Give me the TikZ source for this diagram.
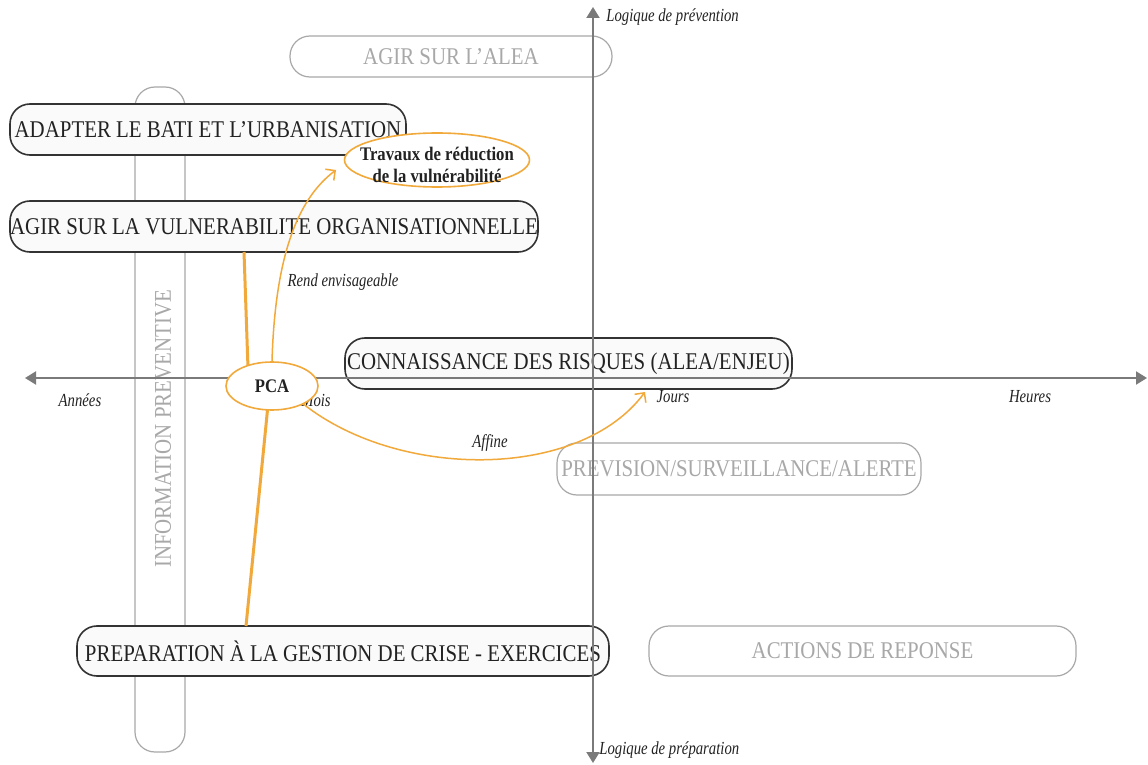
\documentclass[tikz,border=0pt]{standalone}
\usepackage{fontspec}
\setmainfont{Liberation Serif}[FakeStretch=0.87, ItalicFeatures={FakeStretch=0.8}]
\usetikzlibrary{arrows.meta,shapes.geometric}
\definecolor{axisgray}{HTML}{7A7A7A}
\definecolor{lightgray}{HTML}{A8A8A8}
\definecolor{darkline}{HTML}{333333}
\definecolor{orng}{HTML}{F2A93B}
\definecolor{boxfill}{HTML}{FAFAFA}
\definecolor{txt}{HTML}{222222}
\tikzset{
  darkbox/.style={draw=darkline, line width=0.8pt, fill=boxfill, rounded corners=10pt, inner sep=0pt, text=txt, font=\fontsize{12}{13}\selectfont},
  graybox/.style={draw=lightgray, line width=0.6pt, fill=white, rounded corners=10pt, inner sep=0pt, text=lightgray, font=\fontsize{12}{13}\selectfont},
  grayfree/.style={text=lightgray, inner sep=0pt, font=\fontsize{12}{13}\selectfont},
  orell/.style={ellipse, draw=orng, line width=0.8pt, fill=white, inner sep=0pt, text=txt, align=center, font=\fontsize{9.6}{11}\selectfont\bfseries},
  axislab/.style={inner sep=0pt, text=txt, font=\fontsize{9.2}{11}\selectfont\itshape},
  axisline/.style={draw=axisgray, line width=1pt, {Triangle[width=6.5pt,length=5.5pt]}-{Triangle[width=6.5pt,length=5.5pt]}},
  thickor/.style={draw=orng, line width=1.5pt},
  thinor/.style={draw=orng, line width=0.75pt, -{Straight Barb[length=3.5pt,width=7pt]}}
}
\begin{document}
\begin{tikzpicture}[x=0.5pt,y=-0.5pt]
\useasboundingbox (0,0) rectangle (1148,765);
\fill[white] (0,0) rectangle (1148,765);
% vertical information box
\node[graybox, rotate=90, minimum width=332.5pt, minimum height=25pt] (info) at (160,419.5) {};
\node[grayfree, rotate=90] (infot) at (163,429) {INFORMATION PREVENTIVE};
% boxes
\node[graybox, minimum width=161pt, minimum height=20.5pt] (alea) at (451,56.5) {AGIR SUR L’ALEA};
\node[darkbox, minimum width=198pt, minimum height=25.5pt] (bati) at (208,129.5) {ADAPTER LE BATI ET L’URBANISATION};
\node[darkbox, minimum width=264pt, minimum height=25.5pt] (avul) at (274,226.5) {AGIR SUR LA VULNERABILITE ORGANISATIONNELLE};
\node[darkbox, minimum width=223.5pt, minimum height=25.5pt] (conn) at (568.5,363.5) {CONNAISSANCE DES RISQUES (ALEA/ENJEU)};
\node[graybox, minimum width=182pt, minimum height=26pt] (prev) at (739,469) {PREVISION/SURVEILLANCE/ALERTE};
\node[darkbox, minimum width=266pt, minimum height=25pt] (prep) at (343,651) {PREPARATION À LA GESTION DE CRISE - EXERCICES};
\node[graybox, minimum width=213.5pt, minimum height=25pt] (resp) at (862.5,651) {ACTIONS DE REPONSE};
% axes
\coordinate (xl) at (25,378);
\coordinate (xr) at (1147,378);
\coordinate (yt) at (593,7);
\coordinate (yb) at (593,763);
\draw[axisline] (xl) -- (xr);
\draw[axisline] (yt) -- (yb);
\node[axislab, anchor=west] (lprev) at (606,17) {Logique de prévention};
\node[axislab, anchor=west] (lprep) at (599,750) {Logique de préparation};
\node[axislab] (ann) at (80,400) {Années};
\node[axislab] (mois) at (316,400) {Mois};
\node[axislab] (jours) at (673,397) {Jours};
\node[axislab] (heur) at (1030,397) {Heures};
% thick orange links
\coordinate (a1) at (244,252);
\coordinate (a2) at (248,368);
\coordinate (b1) at (268,405);
\coordinate (b2) at (246,626);
\draw[thickor] (a1) -- (a2);
\draw[thickor] (b1) -- (b2);
% ellipses
\node[orell, minimum width=92.5pt, minimum height=27pt] (trav) at (437,160) {\raisebox{-6pt}[0pt][0pt]{\makebox[0pt]{\begin{tabular}{@{}c@{}}Travaux de réduction\\de la vulnérabilité\end{tabular}}}};
\node[orell, minimum width=46pt, minimum height=24pt] (pca) at (272,386) {PCA};
% curved arrows
\coordinate (tend) at (336,170);
\coordinate (jend) at (645,392);
\draw[thinor] (pca.north) .. controls (275,260) and (296,200) .. (tend);
\draw[thinor] (pca.330) .. controls (400,480) and (580,480) .. (jend);
\node[axislab] (rend) at (343,282) {Rend envisageable};
\node[axislab] (aff) at (490,443) {Affine};
\end{tikzpicture}
\end{document}
